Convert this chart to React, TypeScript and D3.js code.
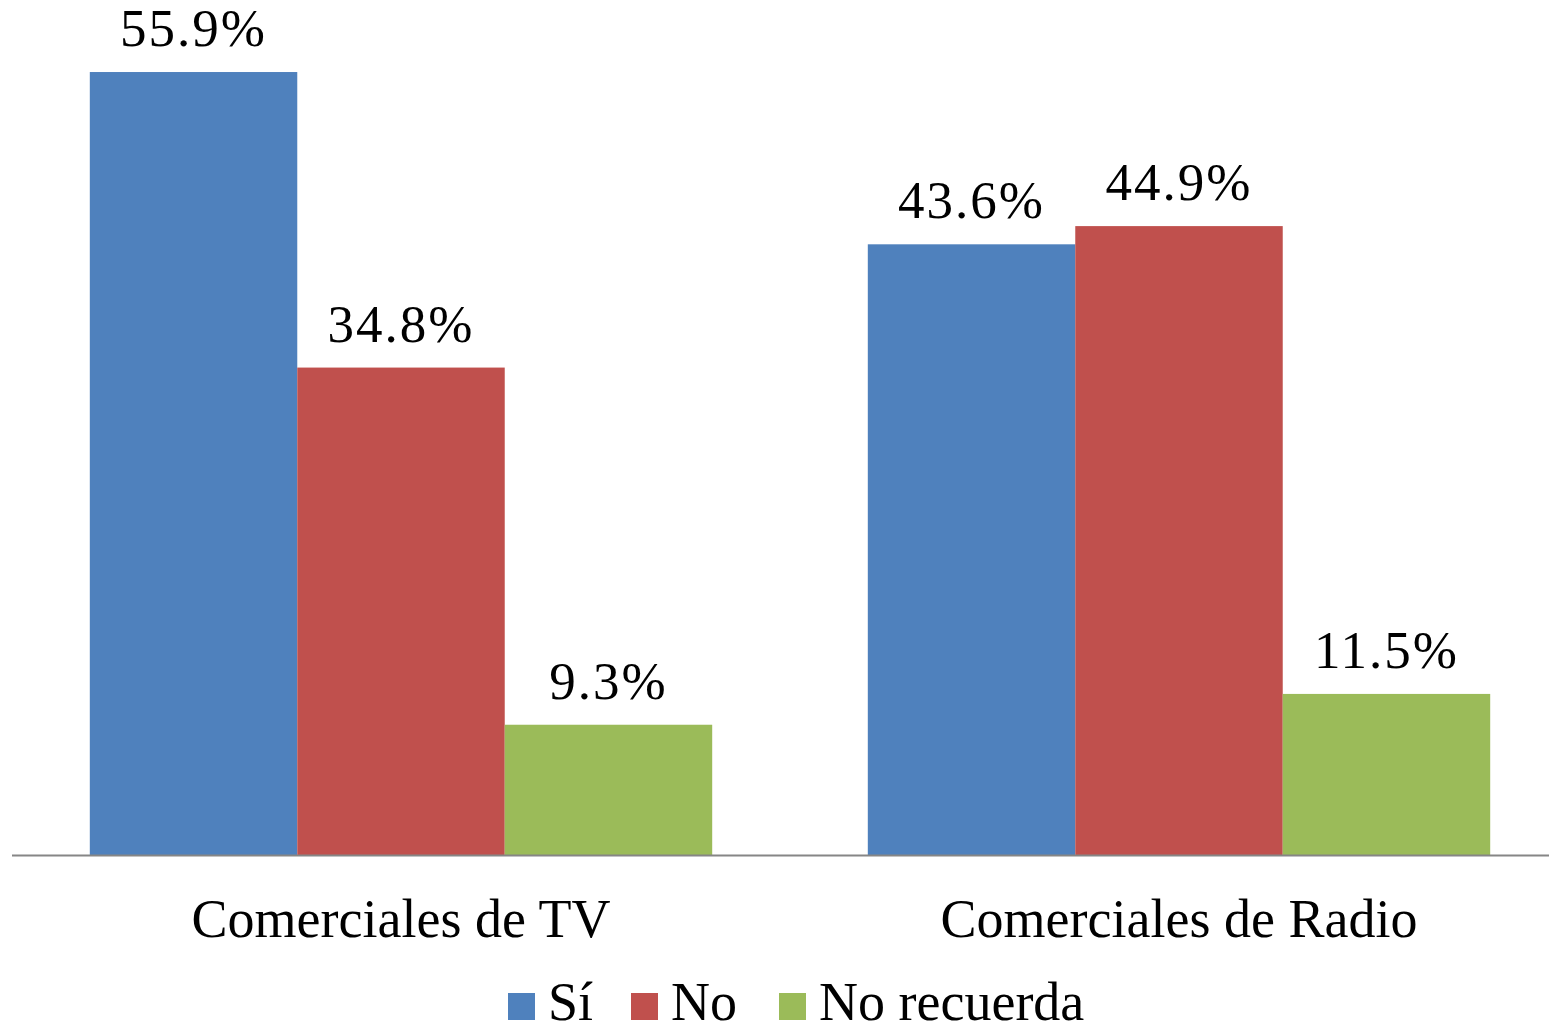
import * as d3 from 'd3'
import React from 'react'

const categories = ['Comerciales de TV', 'Comerciales de Radio']
const seriesNames = ['Sí', 'No', 'No recuerda']
const si = [55.9, 43.6]
const no = [34.8, 44.9]
const noRecuerda = [9.3, 11.5]
const colors = ['#4F81BD', '#C0504D', '#9BBB59']

const W = 1549
const H = 1028
const FONT = '"Liberation Serif", "Times New Roman", serif'

export default function App() {
  const values = [si, no, noRecuerda]
  const baseline = 855

  const x0 = d3
    .scaleBand<string>()
    .domain(categories)
    .range([12, 1568])
    .paddingInner(0.2)
    .paddingOuter(0.1)

  const x1 = d3
    .scaleBand<string>()
    .domain(seriesNames)
    .range([0, x0.bandwidth()])

  const y = d3.scaleLinear().domain([0, 60]).range([baseline, baseline - 840.4])

  const legendX = [508, 631, 779]

  return (
    <svg
      width={W}
      height={H}
      style={{ position: 'absolute', left: 0, top: 0, background: '#fff' }}
      fontFamily={FONT}
    >
      {categories.map((cat, ci) => (
        <g key={cat} transform={`translate(${x0(cat)},0)`}>
          {seriesNames.map((s, si2) => {
            const v = values[si2][ci]
            const bx = x1(s) as number
            return (
              <g key={s}>
                <rect
                  x={bx}
                  y={y(v)}
                  width={x1.bandwidth()}
                  height={baseline - y(v)}
                  fill={colors[si2]}
                />
                <text
                  x={bx + x1.bandwidth() / 2}
                  y={y(v) - 26}
                  textAnchor="middle"
                  fontSize={53}
                  letterSpacing={2}
                  fill="#000"
                >
                  {v.toFixed(1)}%
                </text>
              </g>
            )
          })}
          <text
            x={x0.bandwidth() / 2}
            y={937}
            textAnchor="middle"
            fontSize={54}
            fill="#000"
          >
            {cat}
          </text>
        </g>
      ))}
      <line x1={12} x2={W} y1={baseline + 0.5} y2={baseline + 0.5} stroke="#868686" strokeWidth={2} />
      {seriesNames.map((s, i) => (
        <g key={s}>
          <rect x={legendX[i]} y={993} width={27} height={27} fill={colors[i]} />
          <text x={legendX[i] + 40} y={1020} fontSize={54} fill="#000">
            {s}
          </text>
        </g>
      ))}
    </svg>
  )
}
